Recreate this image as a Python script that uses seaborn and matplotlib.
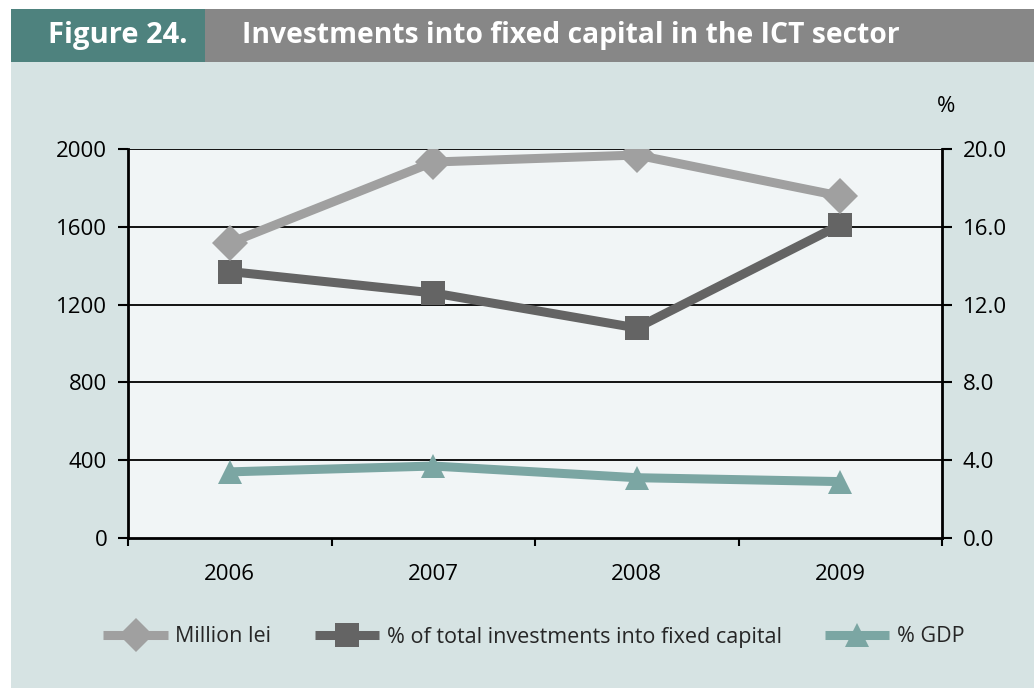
import matplotlib
matplotlib.use("Agg")
import matplotlib.pyplot as plt
from matplotlib.patches import Rectangle
from matplotlib.lines import Line2D
from matplotlib.ticker import FixedLocator, FormatStrFormatter
import seaborn as sns
import pandas as pd

years = ["2006", "2007", "2008", "2009"]
million_lei = [1517, 1933, 1969, 1758]
pct_total_investments = [13.7, 12.6, 10.8, 16.1]
pct_gdp = [3.4, 3.7, 3.1, 2.9]

series_labels = ["Million lei", "% of total investments into fixed capital", "% GDP"]
series_colors = ["#a0a0a0", "#646464", "#7ba6a3"]
series_markers = ["D", "s", "^"]

left_ticks = [0, 400, 800, 1200, 1600, 2000]
right_ticks = [0, 4, 8, 12, 16, 20]

sns.set_theme(style="white")
plt.rcParams["font.family"] = ["Open Sans", "DejaVu Sans"]

BG = "#d6e3e3"
PLOT_BG = "#f1f5f6"
TICK_FS = 16

fig = plt.figure(figsize=(10.34, 6.88), dpi=100)
fig.patch.set_facecolor("white")

# page panel and header bars (kept beneath the axes)
fig.patches.append(Rectangle((11 / 1034, 0), 1 - 11 / 1034, 1 - 62 / 688,
                             transform=fig.transFigure, facecolor=BG, edgecolor="none", zorder=-5))
fig.patches.append(Rectangle((11 / 1034, 1 - 62 / 688), 194 / 1034, 53 / 688,
                             transform=fig.transFigure, facecolor="#4e827e", edgecolor="none", zorder=-5))
fig.patches.append(Rectangle((205 / 1034, 1 - 62 / 688), 1 - 205 / 1034, 53 / 688,
                             transform=fig.transFigure, facecolor="#878787", edgecolor="none", zorder=-5))
fig.text(118 / 1034, 1 - 36 / 688, "Figure 24.", color="white", fontsize=21, fontweight="bold",
         ha="center", va="center")
fig.text(242 / 1034, 1 - 36 / 688, "Investments into fixed capital in the ICT sector", color="white",
         fontsize=20.3, fontweight="bold", ha="left", va="center")

ax2 = fig.add_axes([128 / 1034, 1 - 538 / 688, (942 - 128) / 1034, (538 - 149) / 688])
ax2.set_facecolor(PLOT_BG)
ax2.set_zorder(1)
ax = ax2.twinx()
ax.set_zorder(2)
ax.patch.set_visible(False)
ax.yaxis.tick_left()
ax2.yaxis.tick_right()

df_left = pd.DataFrame({"year": years, "value": million_lei})
df_total = pd.DataFrame({"year": years, "value": pct_total_investments})
df_gdp = pd.DataFrame({"year": years, "value": pct_gdp})

# horizontal gridlines follow the left scale
for y in left_ticks[1:]:
    ax2.axhline(y / 100, color="black", lw=1.3, zorder=1)

sns.lineplot(data=df_gdp, x="year", y="value", ax=ax2, color=series_colors[2], lw=6.5,
             marker=series_markers[2], markersize=17, markeredgewidth=0, zorder=3)
sns.lineplot(data=df_total, x="year", y="value", ax=ax2, color=series_colors[1], lw=6.5,
             marker=series_markers[1], markersize=17, markeredgewidth=0, zorder=4)
sns.lineplot(data=df_left, x="year", y="value", ax=ax, color=series_colors[0], lw=6.5,
             marker=series_markers[0], markersize=18, markeredgewidth=0, zorder=3)

ax.set_ylim(0, 2000)
ax2.set_ylim(0, 20)
ax2.set_xlim(-0.5, 3.5)
ax.set_xlim(-0.5, 3.5)
ax.set_yticks(left_ticks)
ax2.set_yticks(right_ticks)
ax2.yaxis.set_major_formatter(FormatStrFormatter("%.1f"))

ax2.set_xticks(range(len(years)))
ax2.set_xticklabels(years)
ax2.xaxis.set_minor_locator(FixedLocator([-0.5, 0.5, 1.5, 2.5, 3.5]))
ax2.tick_params(axis="x", which="major", length=0, pad=19, labelsize=TICK_FS, colors="black")
ax2.tick_params(axis="x", which="minor", length=6, width=1.5, direction="out", bottom=True, color="black")
ax.tick_params(axis="x", which="both", bottom=False, labelbottom=False)
ax.tick_params(axis="y", length=7, width=1.5, direction="out", left=True, right=False,
               labelleft=True, labelright=False, labelsize=TICK_FS, pad=8, colors="black")
ax2.tick_params(axis="y", length=7, width=1.5, direction="out", right=True, left=False,
                labelright=True, labelleft=False, labelsize=TICK_FS, pad=8, colors="black")

for a in (ax, ax2):
    a.set_xlabel("")
    a.set_ylabel("")
    for side in ("left", "right", "bottom", "top"):
        a.spines[side].set_visible(False)
    if a.get_legend():
        a.get_legend().remove()
for side in ("left", "right", "bottom"):
    ax.spines[side].set_visible(True)
    ax.spines[side].set_color("black")
    ax.spines[side].set_linewidth(2)

fig.text(946 / 1034, 1 - 106 / 688, "%", fontsize=TICK_FS, ha="center", va="center", color="black")

handles = [Line2D([0], [0], color=c, lw=6.5, marker=m, markersize=17, markeredgewidth=0,
                  solid_capstyle="butt")
           for c, m in zip(series_colors, series_markers)]
leg = fig.legend(handles, series_labels, loc="center left", bbox_to_anchor=(84 / 1034, 1 - 637 / 688),
                 ncol=3, frameon=False, fontsize=15.5, handlelength=3.0, handletextpad=0.35,
                 columnspacing=2.0)

fig.savefig("out.png", dpi=100, facecolor=fig.get_facecolor())
